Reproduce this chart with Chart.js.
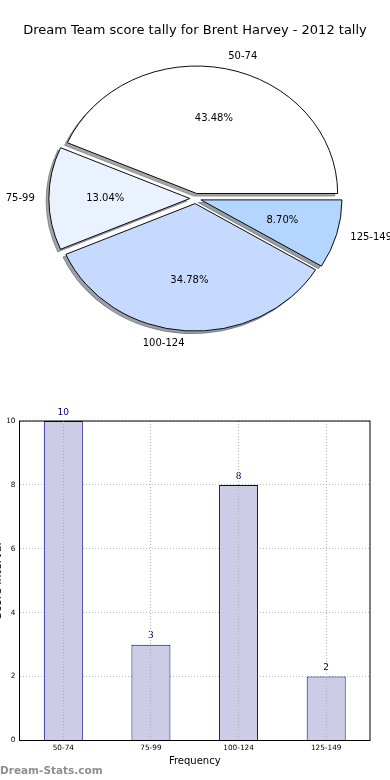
<!DOCTYPE html>
<html><head><meta charset="utf-8">
<script src="https://cdn.jsdelivr.net/npm/chart.js@4/dist/chart.umd.min.js"></script>
<style>
html,body{margin:0;padding:0;background:#fff;width:390px;height:780px;overflow:hidden;position:relative;font-family:"DejaVu Sans",sans-serif;}
#title{position:absolute;left:0;top:21px;width:390px;text-align:center;font-size:13px;line-height:18px;color:#000;white-space:nowrap;}
#pieWrap{position:absolute;left:0;top:0;width:391px;height:397px;}
#barWrap{position:absolute;left:-8px;top:400px;width:398px;height:380px;}
#wm{position:absolute;left:0;top:763px;font-size:10.5px;line-height:14px;color:#8f8f8f;font-weight:bold;white-space:nowrap;}
</style></head>
<body>
<div id="pieWrap"><canvas id="pie"></canvas></div>
<div id="title">Dream Team score tally for Brent Harvey - 2012 tally</div>
<div id="barWrap"><canvas id="bar"></canvas></div>
<div id="wm">Dream-Stats.com</div>
<script>
const categories = ['50-74', '75-99', '100-124', '125-149'];
const counts = [10, 3, 8, 2];
const yTicks = [0, 2, 4, 6, 8, 10];
const pieColors = ['#ffffff', '#ebf2ff', '#c6d9ff', '#b3d5ff'];
const xTitle = 'Frequency';
const yTitle = 'Score Interval';

const total = counts.reduce((a, b) => a + b, 0);
const pctLabels = counts.map(v => (v / total * 100).toFixed(2) + '%');

const FONT = '"DejaVu Sans", sans-serif';
const K = 127.5 / 141;      // vertical squash of the pie (elliptical axes)
const EXP = 0.04;           // explode fraction
const SHX = -2.8, SHY = 2.6; // shadow offset

function shadowColor(hex) {
  const n = parseInt(hex.slice(1), 16);
  const r = (n >> 16) & 255, g = (n >> 8) & 255, b = n & 255;
  return 'rgba(' + Math.round(r * 0.3) + ',' + Math.round(g * 0.3) + ',' + Math.round(b * 0.3) + ',0.5)';
}

const pieDraw = {
  id: 'pieDraw',
  beforeDatasetsDraw(chart) {
    const ctx = chart.ctx;
    const meta = chart.getDatasetMeta(0);
    const place = (el, dx, dy) => {
      const cx = el.x, cy = el.y;
      ctx.translate(cx + dx, cy + dy);
      ctx.scale(1, -K);
      ctx.translate(-cx, -cy);
      const m = (el.startAngle + el.endAngle) / 2;
      const E = EXP * el.outerRadius;
      ctx.translate(Math.cos(m) * E, Math.sin(m) * E);
    };
    // shadows first
    meta.data.forEach((el, i) => {
      ctx.save();
      place(el, SHX, SHY);
      const o = el.options;
      const sc = shadowColor(pieColors[i]);
      el.options = Object.assign({}, o, {backgroundColor: sc, borderColor: sc});
      el.draw(ctx);
      el.options = o;
      ctx.restore();
    });
    meta.data.forEach(el => {
      ctx.save();
      place(el, 0, 0);
      el.draw(ctx);
      ctx.restore();
    });
    return false;
  },
  afterDraw(chart) {
    const ctx = chart.ctx;
    const meta = chart.getDatasetMeta(0);
    ctx.save();
    ctx.font = '10px ' + FONT;
    ctx.fillStyle = '#000';
    ctx.textBaseline = 'middle';
    meta.data.forEach((el, i) => {
      const RX = el.outerRadius, RY = el.outerRadius * K;
      const m = (el.startAngle + el.endAngle) / 2;
      const c = Math.cos(m), s = Math.sin(m);
      ctx.textAlign = c > 0 ? 'left' : 'right';
      ctx.fillText(categories[i], el.x + (1.1 + EXP) * RX * c, el.y - (1.1 + EXP) * RY * s);
      ctx.textAlign = 'center';
      ctx.fillText(pctLabels[i], el.x + (0.6 + EXP) * RX * c, el.y - (0.6 + EXP) * RY * s);
    });
    ctx.restore();
  }
};

new Chart(document.getElementById('pie'), {
  type: 'pie',
  data: {
    labels: categories,
    datasets: [{data: counts, backgroundColor: pieColors, borderColor: '#000', borderWidth: 1, offset: 0, hoverOffset: 0}]
  },
  options: {
    responsive: true, maintainAspectRatio: false, animation: false, events: [],
    rotation: 90, radius: 141,
    layout: {padding: 0},
    plugins: {legend: {display: false}, tooltip: {enabled: false}, title: {display: false}}
  },
  plugins: [pieDraw]
});

const boxPlugin = {
  id: 'box',
  afterDraw(chart) {
    const {ctx, chartArea: a} = chart;
    ctx.save();
    ctx.strokeStyle = '#000';
    ctx.lineWidth = 1;
    ctx.strokeRect(a.left, a.top, a.right - a.left, a.bottom - a.top);
    ctx.restore();
  }
};
const valuePlugin = {
  id: 'vals',
  afterDatasetsDraw(chart) {
    const ctx = chart.ctx;
    const meta = chart.getDatasetMeta(0);
    ctx.save();
    ctx.font = '9px ' + FONT;
    ctx.fillStyle = '#000080';
    ctx.textAlign = 'center';
    ctx.textBaseline = 'middle';
    meta.data.forEach((el, i) => {
      ctx.fillText(String(counts[i]), el.x, el.y - 8.7);
    });
    ctx.restore();
  }
};

new Chart(document.getElementById('bar'), {
  type: 'bar',
  data: {
    labels: categories,
    datasets: [{data: counts, backgroundColor: '#ccccE6', borderColor: '#000080', borderWidth: 1,
      barPercentage: 0.445, categoryPercentage: 1}]
  },
  options: {
    responsive: true, maintainAspectRatio: false, animation: false, events: [],
    layout: {padding: {top: 21, right: 20, bottom: 0, left: 0}},
    plugins: {legend: {display: false}, tooltip: {enabled: false}},
    scales: {
      x: {
        offset: true,
        grid: {offset: false, drawTicks: false, color: '#b0b0b0', lineWidth: 1, z: 1},
        border: {display: false, dash: [1, 2]},
        ticks: {font: {size: 7.3, family: FONT}, color: '#000', padding: 3, maxRotation: 0, autoSkip: false},
        title: {display: true, text: xTitle, color: '#000', font: {size: 10, family: FONT}, padding: {top: 0, bottom: 12.4}},
        afterFit(s) { s.height = 39.5; }
      },
      y: {
        min: 0, max: 10,
        afterBuildTicks(s) { s.ticks = yTicks.map(v => ({value: v})); },
        grid: {drawTicks: false, color: '#b8b8b8', lineWidth: 1},
        border: {display: false, dash: [1, 2]},
        ticks: {font: {size: 7.3, family: FONT}, color: '#000', padding: 4},
        title: {display: true, text: yTitle, color: '#000', font: {size: 11, family: FONT}, padding: {top: 0, bottom: 0}},
        afterFit(s) { s.width = 27.5; }
      }
    }
  },
  plugins: [boxPlugin, valuePlugin]
});
</script>
</body></html>
